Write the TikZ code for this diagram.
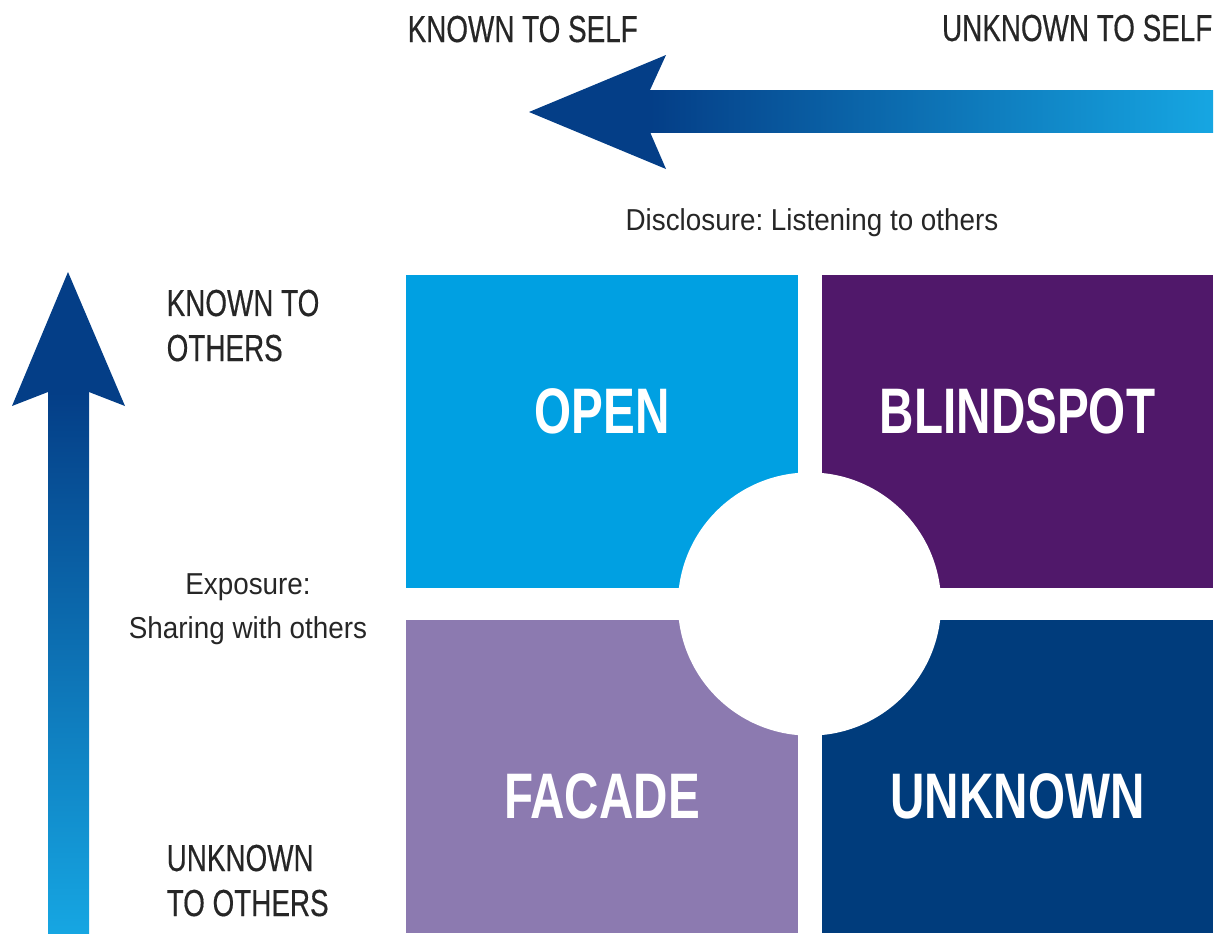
\documentclass[tikz,border=0pt]{standalone}
\usepackage{fontspec}
\setmainfont{Liberation Sans}
\newfontfamily\condfont[FakeStretch=0.74, FakeBold=0.4]{Liberation Sans}
\newfontfamily\boldcondfont[FakeStretch=0.74]{Liberation Sans}
\newfontfamily\notefont[FakeStretch=0.92]{Liberation Sans}
\frenchspacing
\usepackage{xcolor}
\definecolor{arrowdark}{RGB}{4, 62, 135}
\definecolor{arrowlight}{RGB}{22, 166, 226}
\definecolor{openblue}{RGB}{0, 160, 226}
\definecolor{blindpurple}{RGB}{80, 24, 106}
\definecolor{facadelilac}{RGB}{140, 122, 176}
\definecolor{unknownnavy}{RGB}{0, 60, 124}
\definecolor{labelgrey}{RGB}{38, 38, 38}
\usepackage{tikz}
\usetikzlibrary{positioning, calc}

\begin{document}
\begin{tikzpicture}[x=0.01cm, y=-0.01cm,
    quad/.style={rectangle, inner sep=0pt, outer sep=0pt, minimum width=3.91cm, minimum height=3.13cm},
    biglabel/.style={text=white, inner sep=0pt, font=\boldcondfont\bfseries\fontsize{18.3}{20}\selectfont},
    sidelabel/.style={text=labelgrey, inner sep=0pt, font=\condfont\fontsize{10.7}{12.8}\selectfont},
    note/.style={text=labelgrey, inner sep=0pt, font=\notefont\fontsize{8.6}{12.4}\selectfont}]
        \useasboundingbox (0,0) rectangle (1222,933);

        % four quadrants
        \node[quad, fill=openblue] (open) at (602,431.5) {};
        \node[quad, fill=blindpurple] (blind) at (1017.5,431.5) {};
        \node[quad, fill=facadelilac] (facade) at (602,776.5) {};
        \node[quad, fill=unknownnavy] (unknown) at (1017.5,776.5) {};
        \node[circle, fill=white, inner sep=0pt, minimum size=2.63cm] (hub) at (809.5,604) {};

        \node[biglabel] at ([yshift=0.2cm]open.center) {OPEN};
        \node[biglabel] at ([yshift=0.2cm]blind.center) {BLINDSPOT};
        \node[biglabel] at ([yshift=-0.2cm]facade.center) {FACADE};
        \node[biglabel] at ([yshift=-0.2cm]unknown.center) {UNKNOWN};

        % disclosure arrow (top)
        \coordinate (selftip) at (529,112);
        \coordinate (selftail) at (1213,132);
        \shade[left color=arrowdark, right color=arrowlight] (650,90) rectangle (selftail);
        \fill[arrowdark] (selftip) -- (666,55) -- (650,90) -- (650,132) -- (666,169) -- cycle;

        % exposure arrow (left)
        \coordinate (otherstip) at (68,272);
        \coordinate (otherstail) at (48,933);
        \shade[top color=arrowdark, bottom color=arrowlight] (otherstail) rectangle (89,392);
        \fill[arrowdark] (otherstip) -- (125,406) -- (89,392) -- (48,392) -- (12,406) -- cycle;

        % axis texts
        \node[sidelabel, anchor=base west] (knownself) at (407,42) {KNOWN TO SELF};
        \node[sidelabel, anchor=base east] (unknownself) at (1213,41) {UNKNOWN TO SELF};
        \node[note, anchor=base] (disclosure) at (812,230) {Disclosure: Listening to others};
        \node[sidelabel, anchor=north west, align=left] (knownothers) at (166,289) {KNOWN TO\\OTHERS};
        \node[sidelabel, anchor=north west, align=left] (unknownothers) at (166,844) {UNKNOWN\\TO OTHERS};
        \node[note, anchor=north, align=center] (exposure) at (248,573) {Exposure:\\Sharing with others};
    \end{tikzpicture}
\end{document}
